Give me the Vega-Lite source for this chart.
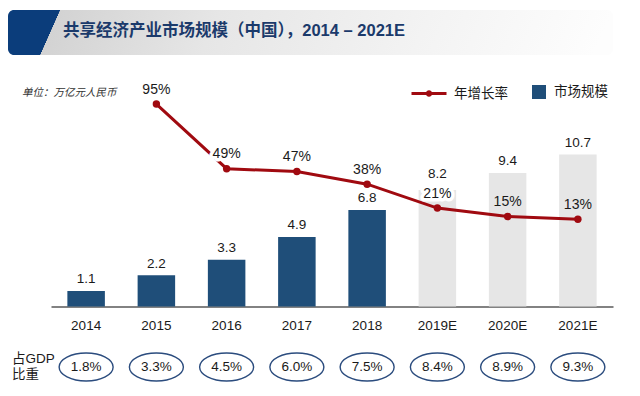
{
  "$schema": "https://vega.github.io/schema/vega-lite/v6.json",
  "width": 640,
  "height": 396,
  "autosize": {"type": "none"},
  "padding": 0,
  "background": "white",
  "config": {"view": {"stroke": null}},
  "data": {"values": [
    {"year": "2014", "size": 1.1, "growth": null, "gdp": 0.018, "kind": "市场规模"},
    {"year": "2015", "size": 2.2, "growth": 0.95, "gdp": 0.033, "kind": "市场规模"},
    {"year": "2016", "size": 3.3, "growth": 0.49, "gdp": 0.045, "kind": "市场规模"},
    {"year": "2017", "size": 4.9, "growth": 0.47, "gdp": 0.06, "kind": "市场规模"},
    {"year": "2018", "size": 6.8, "growth": 0.38, "gdp": 0.075, "kind": "市场规模"},
    {"year": "2019E", "size": 8.2, "growth": 0.21, "gdp": 0.084, "kind": "预测"},
    {"year": "2020E", "size": 9.4, "growth": 0.15, "gdp": 0.089, "kind": "预测"},
    {"year": "2021E", "size": 10.7, "growth": 0.13, "gdp": 0.093, "kind": "预测"}
  ]},
  "resolve": {"scale": {"y": "independent"}},
  "layer": [
    {
      "data": {"values": [{"t": "header"}]},
      "mark": {"type": "rect", "cornerRadius": 6,
        "fill": {"gradient": "linear", "x1": 0, "y1": 0, "x2": 1, "y2": 0.033,
          "stops": [
            {"offset": 0, "color": "#0B3D7B"},
            {"offset": 0.0858, "color": "#0B3D7B"},
            {"offset": 0.0864, "color": "#D3D3D3"},
            {"offset": 0.35, "color": "#E6E6E6"},
            {"offset": 0.7, "color": "#F3F3F3"},
            {"offset": 1, "color": "#FDFDFD"}
          ]}},
      "encoding": {"x": {"value": 8}, "x2": {"value": 613}, "y": {"value": 10}, "y2": {"value": 55}}
    },
    {
      "data": {"values": [{"t": "共享经济产业市场规模（中国），2014 – 2021E"}]},
      "mark": {"type": "text", "align": "left", "baseline": "middle", "font": "Liberation Sans, Noto Sans CJK SC", "fontWeight": "bold", "fontSize": 16.5, "color": "#1B3A6B"},
      "encoding": {"text": {"field": "t"}, "x": {"value": 63}, "y": {"value": 31}}
    },
    {
      "data": {"values": [{"t": "单位：万亿元人民币"}]},
      "mark": {"type": "text", "align": "left", "baseline": "middle", "font": "Noto Sans CJK SC", "fontStyle": "italic", "fontSize": 10.5, "color": "#333333"},
      "encoding": {"text": {"field": "t"}, "x": {"value": 22}, "y": {"value": 93}}
    },
    {
      "data": {"values": [{"t": ["占GDP", "比重"]}]},
      "mark": {"type": "text", "align": "left", "baseline": "alphabetic", "font": "Liberation Sans, Noto Sans CJK SC", "fontSize": 13.5, "lineHeight": 16, "color": "#1a1a1a"},
      "encoding": {"text": {"field": "t"}, "x": {"value": 12}, "y": {"value": 363}}
    },
    {
      "mark": {"type": "bar"},
      "encoding": {
        "x": {"field": "year", "type": "nominal", "sort": null,
          "scale": {"type": "band", "range": [51, 613], "paddingInner": 0.466, "paddingOuter": 0.233},
          "axis": {"title": null, "ticks": false, "labelPadding": 12, "labelFontSize": 13.5, "labelFont": "Liberation Sans", "labelColor": "#1a1a1a", "labelAngle": 0, "domainColor": "#595959", "domainWidth": 1.5, "offset": -89.5, "grid": false}},
        "y": {"field": "size", "type": "quantitative", "scale": {"domain": [0, 16.65], "range": [306.5, 70], "nice": false, "zero": false}, "axis": null},
        "fill": {"field": "kind", "type": "nominal",
          "scale": {"domain": ["市场规模", "预测"], "range": ["#1F4E79", "#E6E6E6"]},
          "legend": {"values": ["市场规模"], "orient": "none", "legendX": 532, "legendY": 85, "direction": "horizontal", "title": null, "padding": 0, "symbolType": "square", "symbolSize": 196, "symbolStrokeWidth": 0, "labelOffset": 8, "labelFontSize": 13.5, "labelFont": "Noto Sans CJK SC", "labelColor": "#1a1a1a"}}
      }
    },
    {
      "transform": [{"filter": "datum.year != '2019E'"}],
      "mark": {"type": "text", "baseline": "alphabetic", "dy": -7.5, "font": "Liberation Sans", "fontSize": 13.5, "color": "#1a1a1a"},
      "encoding": {
        "x": {"field": "year", "type": "nominal", "sort": null, "scale": {"type": "band", "range": [51, 613], "paddingInner": 0.466, "paddingOuter": 0.233}},
        "y": {"field": "size", "type": "quantitative", "scale": {"domain": [0, 16.65], "range": [306.5, 70], "nice": false, "zero": false}, "axis": null},
        "text": {"field": "size", "type": "quantitative", "format": ".1f"}
      }
    },
    {
      "transform": [{"filter": "datum.year == '2019E'"}],
      "mark": {"type": "text", "baseline": "alphabetic", "dy": -12, "font": "Liberation Sans", "fontSize": 13.5, "color": "#1a1a1a"},
      "encoding": {
        "x": {"field": "year", "type": "nominal", "sort": null, "scale": {"type": "band", "range": [51, 613], "paddingInner": 0.466, "paddingOuter": 0.233}},
        "y": {"field": "size", "type": "quantitative", "scale": {"domain": [0, 16.65], "range": [306.5, 70], "nice": false, "zero": false}, "axis": null},
        "text": {"field": "size", "type": "quantitative", "format": ".1f"}
      }
    },
    {
      "transform": [{"filter": "datum.growth != null"}],
      "mark": {"type": "line", "strokeWidth": 3},
      "encoding": {
        "x": {"field": "year", "type": "nominal", "sort": null, "scale": {"type": "band", "range": [51, 613], "paddingInner": 0.466, "paddingOuter": 0.233}},
        "y": {"field": "growth", "type": "quantitative", "scale": {"domain": [-0.49, 1.192], "range": [306.5, 70], "nice": false, "zero": false}, "axis": null},
        "stroke": {"datum": "年增长率", "scale": {"domain": ["年增长率"], "range": ["#A00A10"]},
          "legend": {"orient": "none", "legendX": 410, "legendY": 74.5, "direction": "horizontal", "title": null, "padding": 0,
            "symbolType": "M-1,0H1M0.1,0A0.1,0.1,0,1,1,-0.1,0A0.1,0.1,0,1,1,0.1,0Z", "symbolSize": 1225, "symbolStrokeWidth": 3, "symbolFillColor": "#A00A10",
            "labelOffset": 6, "labelFontSize": 13.5, "labelFont": "Noto Sans CJK SC", "labelColor": "#1a1a1a"}}
      }
    },
    {
      "transform": [{"filter": "datum.growth != null"}],
      "mark": {"type": "point", "filled": true, "size": 55, "color": "#A00A10", "opacity": 1},
      "encoding": {
        "x": {"field": "year", "type": "nominal", "sort": null, "scale": {"type": "band", "range": [51, 613], "paddingInner": 0.466, "paddingOuter": 0.233}},
        "y": {"field": "growth", "type": "quantitative", "scale": {"domain": [-0.49, 1.192], "range": [306.5, 70], "nice": false, "zero": false}, "axis": null}
      }
    },
    {
      "transform": [{"filter": "datum.year == '2016' || datum.year == '2019E'"}],
      "mark": {"type": "text", "baseline": "alphabetic", "dy": -10.5, "font": "Liberation Sans", "fontSize": 14, "fill": "white", "stroke": "white", "strokeWidth": 7, "strokeJoin": "round"},
      "encoding": {
        "x": {"field": "year", "type": "nominal", "sort": null, "scale": {"type": "band", "range": [51, 613], "paddingInner": 0.466, "paddingOuter": 0.233}},
        "y": {"field": "growth", "type": "quantitative", "scale": {"domain": [-0.49, 1.192], "range": [306.5, 70], "nice": false, "zero": false}, "axis": null},
        "text": {"field": "growth", "type": "quantitative", "format": ".0%"}
      }
    },
    {
      "transform": [{"filter": "datum.growth != null"}],
      "mark": {"type": "text", "baseline": "alphabetic", "dy": -10.5, "font": "Liberation Sans", "fontSize": 14, "color": "#1a1a1a"},
      "encoding": {
        "x": {"field": "year", "type": "nominal", "sort": null, "scale": {"type": "band", "range": [51, 613], "paddingInner": 0.466, "paddingOuter": 0.233}},
        "y": {"field": "growth", "type": "quantitative", "scale": {"domain": [-0.49, 1.192], "range": [306.5, 70], "nice": false, "zero": false}, "axis": null},
        "text": {"field": "growth", "type": "quantitative", "format": ".0%"}
      }
    },
    {
      "mark": {"type": "point", "filled": false, "shape": "M-1,0A1,0.52,0,1,1,1,0A1,0.52,0,1,1,-1,0Z", "size": 2916, "stroke": "#2B4C7E", "strokeWidth": 1.4, "opacity": 1},
      "encoding": {
        "x": {"field": "year", "type": "nominal", "sort": null, "scale": {"type": "band", "range": [51, 613], "paddingInner": 0.466, "paddingOuter": 0.233}},
        "y": {"value": 367}
      }
    },
    {
      "mark": {"type": "text", "baseline": "middle", "font": "Liberation Sans", "fontSize": 13.5, "color": "#1a1a1a"},
      "encoding": {
        "x": {"field": "year", "type": "nominal", "sort": null, "scale": {"type": "band", "range": [51, 613], "paddingInner": 0.466, "paddingOuter": 0.233}},
        "y": {"value": 367},
        "text": {"field": "gdp", "type": "quantitative", "format": ".1%"}
      }
    }
  ]
}
